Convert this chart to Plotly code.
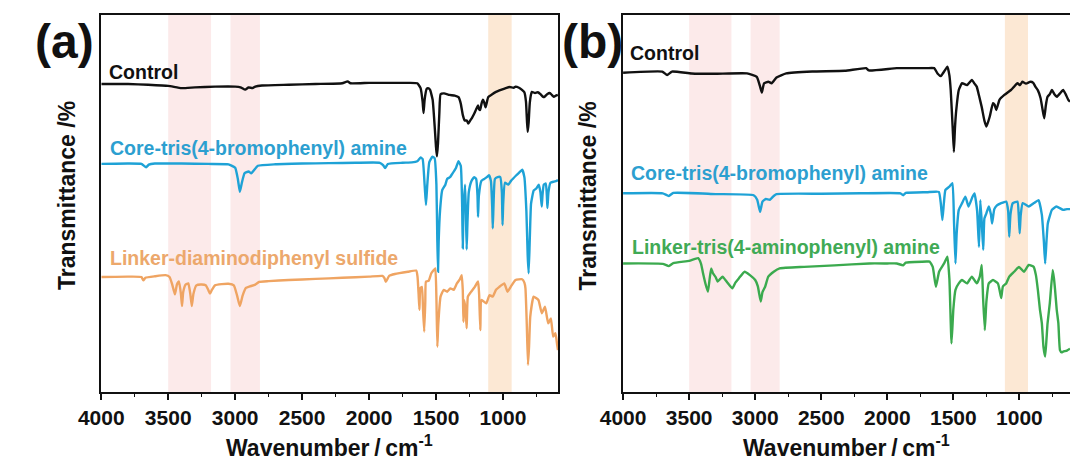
import plotly.graph_objects as go

# ---------------- data ----------------
# Panel (a)
wn_a_control = [4000, 3800, 3650, 3500, 3400, 3300, 3150, 3000, 2960, 2925, 2900, 2870, 2850, 2800,
                2600, 2400, 2200, 2160, 2140, 2000, 1800, 1700, 1640, 1615, 1600, 1593, 1585, 1570,
                1560, 1545, 1525, 1510, 1500, 1493, 1485, 1475, 1466, 1440, 1400, 1360, 1332, 1315,
                1300, 1285, 1270, 1259, 1245, 1230, 1215, 1200, 1186, 1178, 1170, 1160, 1149, 1140,
                1130, 1110, 1080, 1052, 1010, 979, 950, 920, 906, 880, 860, 840, 828, 820, 815, 808,
                800, 790, 784, 760, 740, 720, 700, 690, 670, 650, 635, 620, 605, 590]
t_a_control = [81.7, 81.7, 81.5, 81.2, 80.6, 80.8, 81.0, 81.0, 80.8, 80.2, 80.8, 80.6, 81.0, 81.3,
               81.5, 81.7, 81.9, 82.4, 81.9, 82.0, 82.0, 82.0, 81.9, 80.6, 77.0, 74.0, 77.5, 80.4,
               80.6, 80.2, 77.5, 70.5, 65.0, 62.5, 66.0, 74.0, 79.0, 79.2, 78.8, 78.6, 78.2, 76.5,
               73.5, 72.0, 72.0, 71.2, 72.0, 72.8, 73.8, 75.0, 76.0, 75.0, 74.8, 76.5, 77.5, 76.8,
               75.5, 78.2, 79.0, 79.6, 80.2, 80.6, 80.9, 80.7, 81.0, 80.7, 80.2, 79.5, 77.0, 71.5,
               69.0, 71.5, 76.5, 79.0, 79.6, 79.3, 79.5, 79.0, 78.3, 78.3, 79.0, 79.3, 78.8, 78.3,
               78.6, 78.8]

wn_a_core = [4000, 3800, 3700, 3665, 3645, 3600, 3400, 3200, 3050, 3000, 2980, 2965, 2950, 2930,
             2900, 2880, 2860, 2830, 2700, 2500, 2300, 2100, 1920, 1895, 1880, 1860, 1750, 1680,
             1640, 1615, 1600, 1585, 1575, 1565, 1550, 1527, 1510, 1497, 1490, 1485, 1480, 1470,
             1453, 1430, 1417, 1395, 1380, 1350, 1332, 1315, 1305, 1300, 1295, 1283, 1277, 1271,
             1265, 1255, 1235, 1215, 1200, 1190, 1186, 1180, 1161, 1140, 1120, 1105, 1090, 1080,
             1076, 1070, 1060, 1040, 1020, 1008, 1003, 998, 985, 960, 940, 900, 870, 856, 840,
             825, 815, 808, 800, 790, 770, 750, 733, 720, 715, 710, 705, 695, 680, 672, 668, 660,
             645, 620, 600, 589]
t_a_core = [60.5, 60.6, 60.5, 59.6, 60.3, 60.6, 60.6, 60.5, 60.4, 59.5, 56.5, 53.1, 55.5, 58.0,
            58.5, 58.0, 58.8, 60.0, 60.4, 60.6, 60.7, 60.8, 60.8, 60.2, 59.4, 60.5, 60.8, 60.9,
            61.2, 62.2, 61.8, 55.0, 49.6, 55.0, 61.0, 62.4, 62.0, 55.0, 40.0, 31.9, 40.0, 48.0,
            53.6, 55.0, 56.5, 57.0, 57.8, 59.5, 61.2, 60.0, 50.0, 38.1, 48.0, 55.0, 48.0, 37.8,
            45.0, 53.0, 56.0, 57.0, 56.5, 52.0, 46.5, 52.0, 56.0, 56.5, 57.0, 57.5, 56.0, 49.0,
            43.4, 50.0, 56.5, 57.0, 57.0, 53.0, 44.3, 50.0, 55.5, 55.0, 56.0, 57.5, 58.5, 59.0,
            57.0, 48.0, 36.0, 31.5, 40.0, 50.0, 53.5, 54.0, 55.0, 53.0, 51.0, 49.2, 52.0, 55.0,
            55.3, 52.0, 48.8, 53.0, 55.5, 55.8, 56.0, 56.2]

wn_a_linker = [4000, 3800, 3700, 3686, 3670, 3600, 3520, 3490, 3470, 3450, 3435, 3420, 3405, 3397,
               3388, 3370, 3350, 3335, 3324, 3312, 3290, 3250, 3220, 3200, 3188, 3175, 3150, 3100,
               3050, 3010, 2985, 2965, 2945, 2920, 2890, 2850, 2821, 2750, 2600, 2400, 2200, 2000,
               1900, 1885, 1875, 1850, 1807, 1710, 1648, 1638, 1630, 1624, 1617, 1605, 1597, 1588,
               1580, 1575, 1555, 1535, 1515, 1505, 1497, 1490, 1483, 1466, 1442, 1417, 1393, 1368,
               1344, 1320, 1308, 1300, 1295, 1290, 1280, 1271, 1262, 1240, 1210, 1186, 1178, 1169,
               1160, 1125, 1100, 1076, 1052, 1027, 990, 966, 942, 906, 857, 840, 832, 822, 813,
               805, 796, 771, 735, 710, 686, 662, 642, 625, 608, 595, 589]
t_a_linker = [30.5, 30.6, 30.5, 29.6, 30.3, 30.7, 31.0, 30.5, 28.5, 25.9, 28.5, 29.3, 26.0, 22.8,
              26.5, 28.5, 28.8, 26.0, 22.8, 26.0, 28.3, 28.5, 28.3, 27.0, 26.1, 27.0, 28.3, 28.6,
              28.7, 28.3, 25.5, 22.8, 25.5, 27.6, 28.0, 28.5, 29.2, 29.4, 29.7, 30.0, 30.3, 30.6,
              30.8, 30.2, 29.2, 30.8, 31.3, 31.9, 32.2, 30.6, 26.0, 21.8, 27.5, 27.9, 22.0, 16.0,
              24.0, 29.3, 29.5, 31.5, 32.4, 32.8, 25.0, 12.0, 18.0, 25.3, 27.1, 26.6, 27.5, 27.1,
              28.8, 30.0, 31.0, 27.0, 18.6, 24.4, 22.0, 16.9, 25.3, 26.5, 27.9, 29.3, 26.0, 16.4,
              24.4, 23.5, 25.7, 25.3, 27.1, 27.9, 28.8, 26.6, 27.9, 29.7, 29.9, 29.0, 27.5, 18.0,
              7.2, 12.0, 20.0, 25.3, 24.4, 20.9, 22.6, 18.2, 19.5, 14.7, 15.6, 12.5, 11.1]

# Panel (b)
wn_b_control = [4000, 3704, 3667, 3630, 3482, 3308, 3062, 2988, 2963, 2950, 2933, 2901, 2876, 2839,
                2765, 2568, 2321, 2160, 2140, 1928, 1800, 1700, 1645, 1620, 1595, 1570, 1545, 1530,
                1520, 1505, 1496, 1488, 1478, 1459, 1434, 1397, 1360, 1340, 1323, 1305, 1286, 1265,
                1249, 1225, 1200, 1188, 1175, 1160, 1151, 1114, 1064, 1040, 1015, 995, 978, 950,
                916, 895, 879, 860, 840, 825, 812, 800, 787, 770, 754, 735, 717, 693, 669, 650,
                630, 617]
t_b_control = [84.7, 85.0, 84.1, 85.0, 84.5, 84.4, 84.5, 83.6, 81.0, 79.4, 81.9, 82.3, 81.9, 83.4,
               84.5, 85.0, 85.2, 85.9, 85.3, 85.9, 85.9, 85.9, 85.9, 84.5, 83.8, 85.0, 86.3, 84.0,
               80.1, 70.0, 63.7, 70.0, 74.8, 80.1, 81.9, 81.4, 82.8, 81.8, 81.0, 78.5, 75.7, 72.0,
               70.4, 73.0, 76.6, 76.2, 74.8, 76.5, 77.5, 78.8, 80.1, 81.0, 81.9, 81.4, 82.3, 81.8,
               82.3, 82.0, 81.0, 80.0, 78.0, 75.0, 72.6, 76.0, 78.3, 79.0, 80.1, 79.0, 78.3, 79.2,
               80.1, 79.0, 77.5, 77.0]

wn_b_core = [4000, 3700, 3654, 3620, 3300, 3012, 2985, 2963, 2945, 2920, 2889, 2860, 2839, 2500,
             2200, 1900, 1880, 1860, 1700, 1610, 1595, 1583, 1572, 1560, 1530, 1507, 1495, 1484,
             1475, 1459, 1434, 1409, 1385, 1355, 1340, 1320, 1306, 1296, 1285, 1274, 1265, 1250,
             1232, 1215, 1207, 1190, 1170, 1138, 1100, 1085, 1077, 1068, 1050, 1015, 1005, 998,
             990, 975, 929, 890, 855, 830, 815, 805, 795, 785, 754, 720, 669, 640, 617]
t_b_core = [52.7, 52.7, 52.0, 52.8, 52.5, 52.2, 51.0, 47.8, 50.5, 51.2, 51.0, 52.0, 52.5, 52.6,
            52.7, 52.7, 52.2, 52.8, 53.0, 53.1, 50.0, 45.6, 50.0, 53.6, 54.5, 55.4, 45.0, 34.1,
            42.0, 48.3, 50.1, 51.8, 49.2, 51.8, 52.7, 48.0, 38.5, 50.9, 45.0, 37.7, 46.0, 47.4,
            49.2, 47.0, 44.7, 48.5, 49.5, 50.1, 50.5, 48.0, 41.2, 47.0, 50.1, 50.5, 47.0, 42.1,
            47.0, 50.1, 49.2, 50.1, 50.9, 47.0, 40.0, 34.1, 40.0, 44.7, 48.3, 49.2, 48.3, 48.5,
            48.5]

wn_b_linker = [4000, 3700, 3654, 3620, 3500, 3432, 3410, 3395, 3375, 3358, 3345, 3333, 3320, 3300,
               3284, 3265, 3247, 3210, 3173, 3150, 3123, 3080, 3040, 3000, 2980, 2958, 2945, 2925,
               2901, 2860, 2815, 2630, 2400, 2136, 2000, 1928, 1880, 1860, 1700, 1680, 1656, 1632,
               1608, 1570, 1545, 1530, 1514, 1500, 1484, 1459, 1434, 1397, 1360, 1323, 1300, 1285,
               1275, 1262, 1250, 1232, 1200, 1163, 1150, 1138, 1125, 1100, 1077, 1040, 1003, 966,
               929, 892, 875, 860, 845, 830, 818, 805, 795, 787, 770, 748, 738, 730, 718, 705, 693,
               680, 669, 640, 617]
t_b_linker = [34.1, 34.0, 33.4, 34.2, 34.8, 35.5, 34.0, 31.5, 28.5, 26.6, 30.0, 32.8, 31.5, 30.5,
              29.3, 30.0, 30.6, 29.0, 27.5, 29.0, 30.2, 31.9, 31.0, 29.7, 28.0, 24.0, 26.5, 27.9,
              30.6, 31.9, 32.8, 33.2, 33.6, 34.1, 34.1, 34.1, 33.6, 34.3, 34.6, 34.6, 33.2, 27.9,
              31.9, 34.1, 35.9, 30.0, 12.9, 22.0, 27.1, 28.8, 29.7, 28.8, 30.6, 28.8, 30.6, 33.7,
              25.0, 16.4, 24.0, 28.8, 29.7, 28.8, 27.0, 24.9, 28.0, 28.8, 30.6, 31.9, 33.2, 31.9,
              33.7, 33.2, 31.0, 27.0, 22.0, 18.2, 12.0, 9.4, 14.0, 18.2, 23.5, 32.4, 30.0, 27.1,
              22.0, 18.2, 11.1, 10.5, 10.7, 11.0, 11.5]

# highlighted wavenumber bands (from, to) and their colours
bands = [(3500, 3180), (3035, 2815), (1110, 935)]
band_colors = ["#FCEAEA", "#FCEAEA", "#FCE8D4"]

series_labels_a = ["Control", "Core-tris(4-bromophenyl) amine", "Linker-diaminodiphenyl sulfide"]
series_labels_b = ["Control", "Core-tris(4-bromophenyl) amine", "Linker-tris(4-aminophenyl) amine"]
x_tick_values = [4000, 3500, 3000, 2500, 2000, 1500, 1000]
x_minor_values = [3750, 3250, 2750, 2250, 1750, 1250, 750]
x_title = "Wavenumber\u2009/\u2009cm<sup>-1</sup>"
y_title = "Transmittance /%"

# ---------------- styling ----------------
W, H = 1070, 466
FONT = "Liberation Sans, Arial, Helvetica, sans-serif"
BLACK = "#111111"
BLUE = "#1EA2D6"
ORANGE = "#EFA462"
GREEN = "#3BAA4E"
BLUE_TXT = "#2C9FD0"
ORANGE_TXT = "#ECA86C"
GREEN_TXT = "#40AA55"
LW = 2.4


def px(x):
    return x / W


def py(y):
    return 1 - y / H


fig = go.Figure()

traces = [
    (wn_a_control, t_a_control, BLACK, "x", "y", series_labels_a[0]),
    (wn_a_core, t_a_core, BLUE, "x", "y", series_labels_a[1]),
    (wn_a_linker, t_a_linker, ORANGE, "x", "y", series_labels_a[2]),
    (wn_b_control, t_b_control, BLACK, "x2", "y2", series_labels_b[0]),
    (wn_b_core, t_b_core, BLUE, "x2", "y2", series_labels_b[1]),
    (wn_b_linker, t_b_linker, GREEN, "x2", "y2", series_labels_b[2]),
]
for xs, ys, col, xa, ya, name in traces:
    fig.add_trace(go.Scatter(x=xs, y=ys, mode="lines", name=name, xaxis=xa, yaxis=ya,
                             line=dict(color=col, width=LW, shape="spline", smoothing=0.4),
                             showlegend=False, hoverinfo="skip"))

shapes = []
for xa, ya in (("x", "y domain"), ("x2", "y2 domain")):
    for (b0, b1), bc in zip(bands, band_colors):
        shapes.append(dict(type="rect", xref=xa, yref=ya, x0=b0, x1=b1, y0=0, y1=1,
                           fillcolor=bc, line=dict(width=0), layer="below"))

tickfont = dict(family=FONT, size=21, color=BLACK, weight="bold")


def xaxis(domain, rng, anchor):
    return dict(domain=domain, range=rng, anchor=anchor, tickmode="array",
                tickvals=x_tick_values, ticktext=[str(v) for v in x_tick_values],
                ticks="outside", ticklen=6, tickwidth=1.6, tickcolor=BLACK,
                minor=dict(ticks="outside", ticklen=3.5, tickwidth=1.4, tickcolor=BLACK,
                           tickmode="array", tickvals=x_minor_values),
                showline=True, linecolor=BLACK, linewidth=1.6, mirror=True,
                showgrid=False, zeroline=False, tickfont=tickfont)


def yaxis(domain, anchor, mirror):
    return dict(domain=domain, range=[0, 100], anchor=anchor, showticklabels=False,
                ticks="", showline=True, linecolor=BLACK, linewidth=1.6, mirror=mirror,
                showgrid=False, zeroline=False)


ydom = [1 - 392 / H, 1 - 15 / H]
fig.update_layout(
    width=W, height=H, margin=dict(l=0, r=0, t=0, b=0),
    paper_bgcolor="white", plot_bgcolor="white",
    xaxis=xaxis([80 / W, 547 / W], [4000, 587], "y"),
    yaxis=yaxis(ydom, "x", True),
    xaxis2=xaxis([613.3 / W, 1.0], [4000, 617], "y2"),
    yaxis2=yaxis(ydom, "x2", False),
    shapes=shapes,
)

annotations = []


def label(text, x, y, color, size=19.5, xanchor="left", angle=0):
    annotations.append(dict(text=text, x=px(x), y=py(y), xref="paper", yref="paper",
                            xanchor=xanchor, yanchor="middle", showarrow=False,
                            textangle=angle,
                            font=dict(family=FONT, size=size, color=color, weight="bold")))


# panel letters
label("(a)", 42, 41, BLACK, size=48, xanchor="center")
label("(b)", 582, 41, BLACK, size=48, xanchor="center")
# series labels
label(series_labels_a[0], 86, 72, BLACK)
label(series_labels_a[1], 87, 148, BLUE_TXT)
label(series_labels_a[2], 87, 258, ORANGE_TXT)
label(series_labels_b[0], 618, 53, BLACK)
label(series_labels_b[1], 619, 173, BLUE_TXT)
label(series_labels_b[2], 620, 247, GREEN_TXT)
# axis titles
label(x_title, 313, 446, BLACK, size=23, xanchor="center")
label(x_title, 842, 446, BLACK, size=23, xanchor="center")
label(y_title, 45, 196, BLACK, size=23, xanchor="center", angle=-90)
label(y_title, 577, 196, BLACK, size=23, xanchor="center", angle=-90)

fig.update_layout(annotations=annotations)

fig.write_html("out.html")
